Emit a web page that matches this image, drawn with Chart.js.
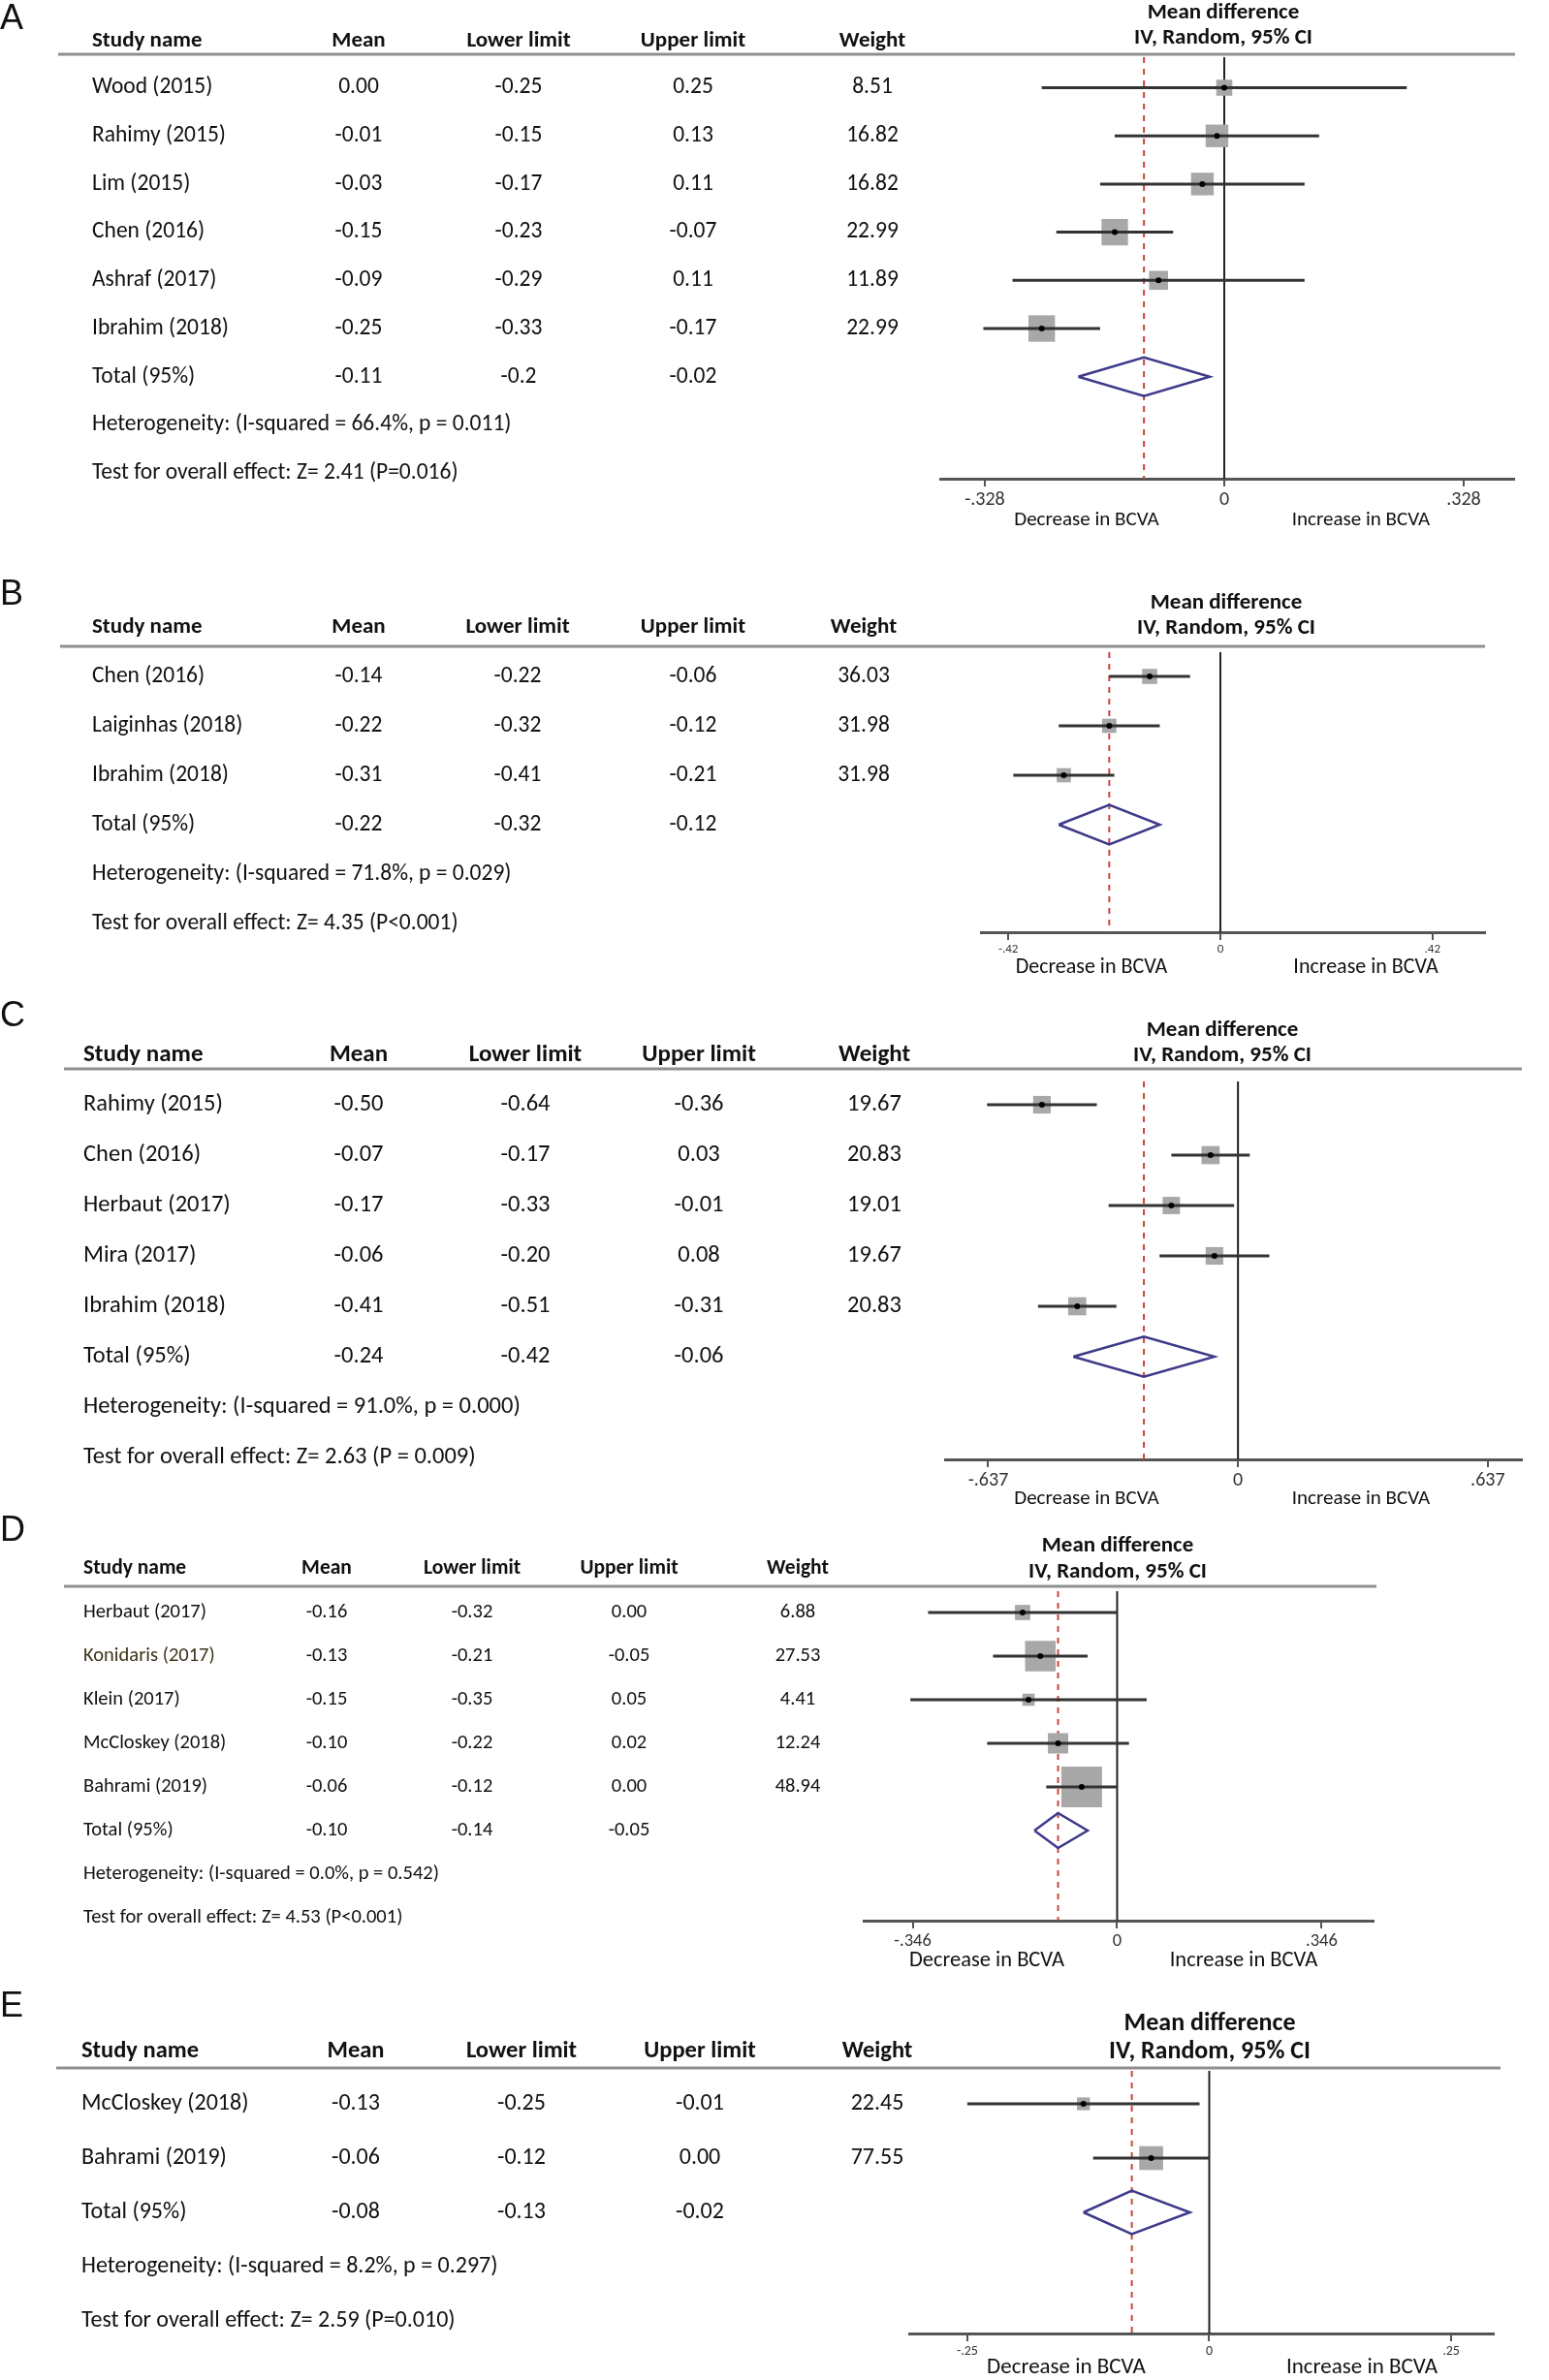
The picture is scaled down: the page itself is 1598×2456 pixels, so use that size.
<!DOCTYPE html>
<html>
<head>
<meta charset="utf-8">
<script src="https://cdn.jsdelivr.net/npm/chart.js@4.4.1/dist/chart.umd.min.js"></script>
<style>
  html, body { margin: 0; padding: 0; background: #fff; }
  #page { position: relative; width: 1598px; height: 2456px; }
  #page canvas { position: absolute; left: 0; }
</style>
</head>
<body>
<div id="page"></div>
<script>
// table text is kept as printed, numbers are parsed from it for the plot
var columns = ['Study name', 'Mean', 'Lower limit', 'Upper limit', 'Weight'];
var mdTitle = ['Mean difference', 'IV, Random, 95% CI'];
var sideLabels = ['Decrease in BCVA', 'Increase in BCVA'];

// A
var studiesA = ['Wood (2015)', 'Rahimy (2015)', 'Lim (2015)', 'Chen (2016)', 'Ashraf (2017)', 'Ibrahim (2018)'];
var meanA = ['0.00', '-0.01', '-0.03', '-0.15', '-0.09', '-0.25'];
var lowerA = ['-0.25', '-0.15', '-0.17', '-0.23', '-0.29', '-0.33'];
var upperA = ['0.25', '0.13', '0.11', '-0.07', '0.11', '-0.17'];
var weightA = ['8.51', '16.82', '16.82', '22.99', '11.89', '22.99'];
var totalA = ['-0.11', '-0.2', '-0.02'];
var hetA = 'Heterogeneity: (I-squared = 66.4%, p = 0.011)';
var testA = 'Test for overall effect: Z= 2.41 (P=0.016)';
var ticksA = [-0.328, 0, 0.328];
var tickLabelsA = ['-.328', '0', '.328'];

// B
var studiesB = ['Chen (2016)', 'Laiginhas (2018)', 'Ibrahim (2018)'];
var meanB = ['-0.14', '-0.22', '-0.31'];
var lowerB = ['-0.22', '-0.32', '-0.41'];
var upperB = ['-0.06', '-0.12', '-0.21'];
var weightB = ['36.03', '31.98', '31.98'];
var totalB = ['-0.22', '-0.32', '-0.12'];
var hetB = 'Heterogeneity: (I-squared = 71.8%, p = 0.029)';
var testB = 'Test for overall effect: Z= 4.35 (P<0.001)';
var ticksB = [-0.42, 0, 0.42];
var tickLabelsB = ['-.42', '0', '.42'];

// C
var studiesC = ['Rahimy (2015)', 'Chen (2016)', 'Herbaut (2017)', 'Mira (2017)', 'Ibrahim (2018)'];
var meanC = ['-0.50', '-0.07', '-0.17', '-0.06', '-0.41'];
var lowerC = ['-0.64', '-0.17', '-0.33', '-0.20', '-0.51'];
var upperC = ['-0.36', '0.03', '-0.01', '0.08', '-0.31'];
var weightC = ['19.67', '20.83', '19.01', '19.67', '20.83'];
var totalC = ['-0.24', '-0.42', '-0.06'];
var hetC = 'Heterogeneity: (I-squared = 91.0%, p = 0.000)';
var testC = 'Test for overall effect: Z= 2.63 (P = 0.009)';
var ticksC = [-0.637, 0, 0.637];
var tickLabelsC = ['-.637', '0', '.637'];

// D
var studiesD = ['Herbaut (2017)', 'Konidaris (2017)', 'Klein (2017)', 'McCloskey (2018)', 'Bahrami (2019)'];
var meanD = ['-0.16', '-0.13', '-0.15', '-0.10', '-0.06'];
var lowerD = ['-0.32', '-0.21', '-0.35', '-0.22', '-0.12'];
var upperD = ['0.00', '-0.05', '0.05', '0.02', '0.00'];
var weightD = ['6.88', '27.53', '4.41', '12.24', '48.94'];
var totalD = ['-0.10', '-0.14', '-0.05'];
var hetD = 'Heterogeneity: (I-squared = 0.0%, p = 0.542)';
var testD = 'Test for overall effect: Z= 4.53 (P<0.001)';
var ticksD = [-0.346, 0, 0.346];
var tickLabelsD = ['-.346', '0', '.346'];

// E
var studiesE = ['McCloskey (2018)', 'Bahrami (2019)'];
var meanE = ['-0.13', '-0.06'];
var lowerE = ['-0.25', '-0.12'];
var upperE = ['-0.01', '0.00'];
var weightE = ['22.45', '77.55'];
var totalE = ['-0.08', '-0.13', '-0.02'];
var hetE = 'Heterogeneity: (I-squared = 8.2%, p = 0.297)';
var testE = 'Test for overall effect: Z= 2.59 (P=0.010)';
var ticksE = [-0.25, 0, 0.25];
var tickLabelsE = ['-.25', '0', '.25'];

var FONT = 'Carlito, Lato, "Open Sans", sans-serif';
var AXIS_H = 40;

// layout of each panel, page pixels
var panels = [
  { key: 'A', studies: studiesA, mean: meanA, lower: lowerA, upper: upperA, weight: weightA, total: totalA,
    het: hetA, test: testA, ticks: ticksA, tickLabels: tickLabelsA,
    top: 0, h: 560, plot: { l: 970, r: 1562, t: 59, b: 494 }, xRange: [-0.389, 0.397], row0: 90.5, step: 49.7,
    headY: 42, lineY: 56, lineX: [60, 1563], mdX: 1262, mdY: [13, 39], cols: [95, 370, 535, 715, 900],
    font: 23.5, headFont: 23, mdFont: 23, letterY: 20, tickFont: 20, sideFont: 21, sideX: [1121, 1404], sideY: 537, boxK: 5.7 },
  { key: 'B', studies: studiesB, mean: meanB, lower: lowerB, upper: upperB, weight: weightB, total: totalB,
    het: hetB, test: testB, ticks: ticksB, tickLabels: tickLabelsB,
    top: 560, h: 460, plot: { l: 1012, r: 1532, t: 673, b: 962 }, xRange: [-0.474, 0.524], row0: 698, step: 51,
    headY: 647, lineY: 667, lineX: [62, 1532], mdX: 1265, mdY: [622, 648], cols: [95, 370, 534, 715, 891],
    font: 23.5, headFont: 23, mdFont: 23, letterY: 614, tickFont: 13, sideFont: 22, sideX: [1126, 1409], sideY: 998, boxK: 2.6 },
  { key: 'C', studies: studiesC, mean: meanC, lower: lowerC, upper: upperC, weight: weightC, total: totalC,
    het: hetC, test: testC, ticks: ticksC, tickLabels: tickLabelsC,
    top: 1020, h: 540, plot: { l: 975, r: 1570, t: 1116, b: 1506 }, xRange: [-0.747, 0.724], row0: 1140, step: 52,
    headY: 1089, lineY: 1103, lineX: [66, 1570], mdX: 1261, mdY: [1063, 1089], cols: [86, 370, 542, 721, 902],
    font: 24.5, headFont: 25, mdFont: 23, letterY: 1049, tickFont: 20, sideFont: 21, sideX: [1121, 1404], sideY: 1547, boxK: 4.1 },
  { key: 'D', studies: studiesD, mean: meanD, lower: lowerD, upper: upperD, weight: weightD, total: totalD,
    het: hetD, test: testD, ticks: ticksD, tickLabels: tickLabelsD,
    top: 1560, h: 485, plot: { l: 891, r: 1417, t: 1642, b: 1982 }, xRange: [-0.429, 0.434], row0: 1664, step: 45,
    headY: 1619, lineY: 1637, lineX: [66, 1420], mdX: 1153, mdY: [1595, 1622], cols: [86, 337, 487, 649, 823],
    font: 20.5, headFont: 21.5, mdFont: 23, letterY: 1580, tickFont: 18.5, sideFont: 22.5, sideX: [1018, 1283], sideY: 2023, boxK: 6.0,
    nameColors: { 1: '#3b3418' } },
  { key: 'E', studies: studiesE, mean: meanE, lower: lowerE, upper: upperE, weight: weightE, total: totalE,
    het: hetE, test: testE, ticks: ticksE, tickLabels: tickLabelsE,
    top: 2045, h: 411, plot: { l: 938, r: 1541, t: 2137, b: 2408 }, xRange: [-0.31, 0.294], row0: 2171, step: 56,
    headY: 2117, lineY: 2134, lineX: [58, 1548], mdX: 1248, mdY: [2088, 2117], cols: [84, 367, 538, 722, 905],
    font: 24, headFont: 24.5, mdFont: 26, letterY: 2071, tickFont: 14, sideFont: 23, sideX: [1100, 1405], sideY: 2443, boxK: 2.8 }
];

function num(s) { return parseFloat(s); }

// table, titles and side labels, drawn on the panel's own y scale
function tablePlugin(p) {
  return {
    id: 'table' + p.key,
    afterDraw: function (chart) {
      var ctx = chart.ctx, ys = chart.scales.y, off = p.top;
      var n = p.studies.length;
      ctx.save();
      ctx.textBaseline = 'middle';
      ctx.fillStyle = '#111';
      ctx.textAlign = 'left';
      ctx.font = '36px "Liberation Sans", "DejaVu Sans", sans-serif';
      ctx.fillText(p.key, 0, p.letterY - off);

      ctx.strokeStyle = '#8f8f8f';
      ctx.lineWidth = 3;
      ctx.beginPath();
      ctx.moveTo(p.lineX[0], p.lineY - off);
      ctx.lineTo(p.lineX[1], p.lineY - off);
      ctx.stroke();

      ctx.fillStyle = '#111';
      ctx.font = 'bold ' + p.headFont + 'px ' + FONT;
      columns.forEach(function (c, i) {
        ctx.textAlign = i === 0 ? 'left' : 'center';
        ctx.fillText(c, p.cols[i], p.headY - off);
      });
      ctx.font = 'bold ' + p.mdFont + 'px ' + FONT;
      ctx.textAlign = 'center';
      ctx.fillText(mdTitle[0], p.mdX, p.mdY[0] - off);
      ctx.fillText(mdTitle[1], p.mdX, p.mdY[1] - off);

      ctx.font = p.font + 'px ' + FONT;
      for (var i = 0; i < n; i++) {
        var y = ys.getPixelForValue(i);
        ctx.textAlign = 'left';
        ctx.fillStyle = (p.nameColors && p.nameColors[i]) || '#111';
        ctx.fillText(p.studies[i], p.cols[0], y);
        ctx.fillStyle = '#111';
        ctx.textAlign = 'center';
        [p.mean[i], p.lower[i], p.upper[i], p.weight[i]].forEach(function (v, j) {
          ctx.fillText(v, p.cols[j + 1], y);
        });
      }
      var yt = ys.getPixelForValue(n);
      ctx.textAlign = 'left';
      ctx.fillText('Total (95%)', p.cols[0], yt);
      ctx.textAlign = 'center';
      p.total.forEach(function (v, j) { ctx.fillText(v, p.cols[j + 1], yt); });
      ctx.textAlign = 'left';
      ctx.fillText(p.het, p.cols[0], ys.getPixelForValue(n + 1));
      ctx.fillText(p.test, p.cols[0], ys.getPixelForValue(n + 2));

      ctx.font = p.sideFont + 'px ' + FONT;
      ctx.textAlign = 'center';
      ctx.fillText(sideLabels[0], p.sideX[0], p.sideY - off);
      ctx.fillText(sideLabels[1], p.sideX[1], p.sideY - off);
      ctx.restore();
    }
  };
}

function forest(p) {
  var n = p.studies.length;
  var yMin = (p.plot.t - p.row0) / p.step;
  var yMax = (p.plot.b - p.row0) / p.step;
  var pooled = num(p.total[0]), pLo = num(p.total[1]), pHi = num(p.total[2]);
  var pts = p.mean.map(function (m, i) { return { x: num(m), y: i }; });

  var ds = [];
  ds.push({ type: 'scatter', data: pts, pointStyle: 'circle', pointRadius: 3,
    backgroundColor: '#000', borderWidth: 0, order: 0 });
  p.studies.forEach(function (s, i) {
    ds.push({ type: 'line', showLine: true, data: [{ x: num(p.lower[i]), y: i }, { x: num(p.upper[i]), y: i }],
      borderColor: '#333', borderWidth: 3, pointRadius: 0, order: 1 });
  });
  ds.push({ type: 'scatter', data: pts, pointStyle: 'rect',
    pointRadius: p.weight.map(function (w) { return p.boxK * Math.sqrt(num(w)) / Math.SQRT2; }),
    backgroundColor: '#a8a8a8', borderWidth: 0, order: 2 });
  ds.push({ type: 'line', showLine: true,
    data: [{ x: pLo, y: n }, { x: pooled, y: n - 0.4 }, { x: pHi, y: n }, { x: pooled, y: n + 0.4 }, { x: pLo, y: n }],
    borderColor: '#3d3a8a', borderWidth: 2.5, pointRadius: 0, order: 3 });
  ds.push({ type: 'line', showLine: true, data: [{ x: pooled, y: yMin }, { x: pooled, y: yMax }],
    borderColor: '#c8453c', borderWidth: 2, borderDash: [6, 6], pointRadius: 0, order: 4 });
  ds.push({ type: 'line', showLine: true, data: [{ x: 0, y: yMin }, { x: 0, y: yMax }],
    borderColor: '#222', borderWidth: 2, pointRadius: 0, order: 5 });

  var canvas = document.createElement('canvas');
  canvas.width = 1598;
  canvas.height = p.h;
  canvas.style.top = p.top + 'px';
  canvas.style.width = '1598px';
  canvas.style.height = p.h + 'px';
  document.getElementById('page').appendChild(canvas);

  return new Chart(canvas.getContext('2d'), {
    type: 'scatter',
    data: { datasets: ds },
    options: {
      responsive: false,
      animation: false,
      devicePixelRatio: 1,
      events: [],
      layout: { padding: { left: p.plot.l, right: 1598 - p.plot.r, top: p.plot.t - p.top,
        bottom: p.top + p.h - p.plot.b - AXIS_H } },
      plugins: { legend: { display: false }, tooltip: { enabled: false } },
      scales: {
        x: {
          type: 'linear', min: p.xRange[0], max: p.xRange[1], bounds: 'data',
          afterBuildTicks: function (s) { s.ticks = p.ticks.map(function (v) { return { value: v }; }); },
          afterFit: function (s) { s.height = AXIS_H; },
          ticks: { autoSkip: false, maxRotation: 0, padding: 2, color: '#333',
            font: { family: FONT, size: p.tickFont },
            callback: function (v, i) { return p.tickLabels[i]; } },
          grid: { display: true, drawOnChartArea: false, drawTicks: true, tickLength: 8, color: '#555', lineWidth: 2 },
          border: { display: true, color: '#555', width: 3 }
        },
        y: { type: 'linear', display: false, reverse: true, min: yMin, max: yMax }
      }
    },
    plugins: [tablePlugin(p)]
  });
}

panels.forEach(forest);
</script>
</body>
</html>
